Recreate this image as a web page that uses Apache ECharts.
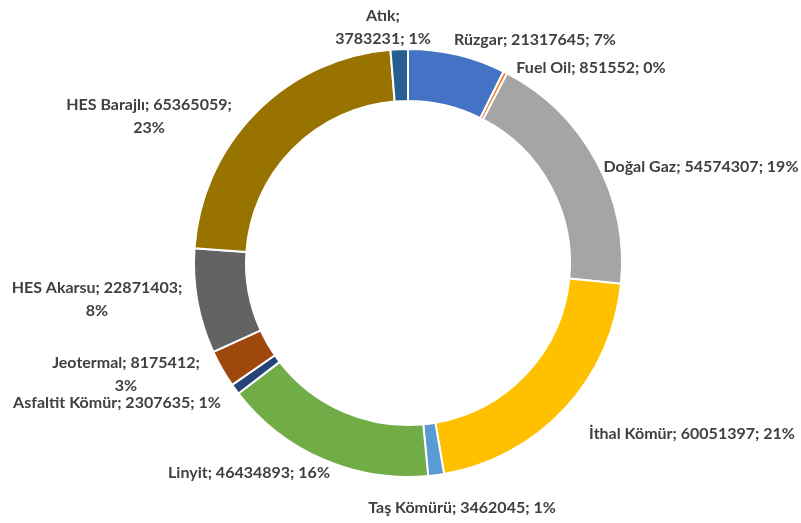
<!DOCTYPE html>
<html>
<head>
<meta charset="utf-8">
<script src="https://cdn.jsdelivr.net/npm/echarts@6/dist/echarts.min.js"></script>
<style>html,body{margin:0;padding:0;background:#fff}#c{width:801px;height:523px}</style>
</head>
<body>
<div id="c"></div>
<script>
const categories = ['Rüzgar','Fuel Oil','Doğal Gaz','İthal Kömür','Taş Kömürü','Linyit','Asfaltit Kömür','Jeotermal','HES Akarsu','HES Barajlı','Atık'];
const values = [21317645, 851552, 54574307, 60051397, 3462045, 46434893, 2307635, 8175412, 22871403, 65365059, 3783231];
// label line-break style: 0 = one line, 1 = break after name, 2 = break after value
const labelBreaks = [0, 0, 0, 0, 0, 0, 0, 2, 2, 2, 1];
const colors = ['#4472C4','#ED7D31','#A5A5A5','#FFC000','#5B9BD5','#70AD47','#264478','#9E480E','#636363','#997300','#255E91'];
// label centre positions (px)
const labelPos = [[535,40],[591,68],[701,167],[692,434],[462,508],[249,473],[117,403],[126,374],[97,299],[149,116],[383,27]];

const chart = echarts.init(document.getElementById('c'), null, {renderer:'canvas'});
chart.setOption({
  animation: false,
  series: [{
    type: 'pie',
    center: [408, 263],
    radius: [162, 214],
    startAngle: 90,
    clockwise: true,
    percentPrecision: 0,
    avoidLabelOverlap: false,
    itemStyle: { borderColor: '#fff', borderWidth: 2 },
    label: {
      show: true,
      position: 'outside',
      color: '#404040',
      fontFamily: 'Lato',
      fontWeight: 'bold',
      fontSize: 16,
      lineHeight: 23,
      align: 'center',
      formatter: function (p) {
        const b = labelBreaks[p.dataIndex];
        if (b === 1) return p.name + ';\n' + p.value + '; ' + p.percent + '%';
        if (b === 2) return p.name + '; ' + p.value + ';\n' + p.percent + '%';
        return p.name + '; ' + p.value + '; ' + p.percent + '%';
      }
    },
    labelLine: { show: false },
    labelLayout: function (params) {
      const pos = labelPos[params.dataIndex];
      return { x: pos[0], y: pos[1], align: 'center', verticalAlign: 'middle', moveOverlap: null };
    },
    emphasis: { disabled: true },
    data: categories.map((c, i) => ({ name: c, value: values[i], itemStyle: { color: colors[i] } }))
  }]
});
</script>
</body>
</html>
